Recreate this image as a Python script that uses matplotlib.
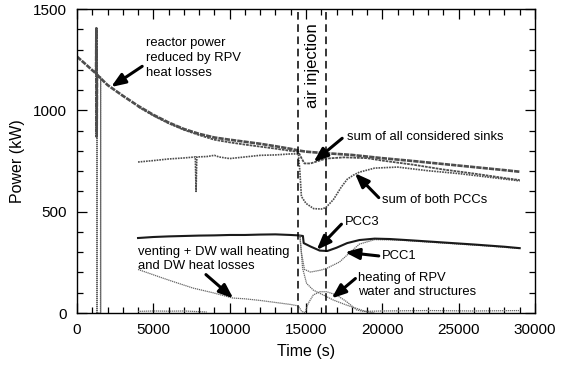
import matplotlib
matplotlib.use("Agg")
import matplotlib.pyplot as plt
from matplotlib.ticker import MultipleLocator

plt.rcParams["font.family"] = ["Liberation Sans", "DejaVu Sans"]

# reactor power reduced by RPV heat losses
reactor_t = [0, 500, 1000, 1250, 1270, 1290, 1310, 2000, 3000, 4000, 5000, 6000, 7000, 8000,
             9000, 10000, 11000, 12000, 13000, 14000, 14500, 15000, 16000, 17000, 18000,
             19000, 20000, 22000, 24000, 26000, 28000, 29000]
reactor_p = [1265, 1232, 1198, 1182, 1405, 870, 1176, 1125, 1072, 1022, 978, 940, 908, 884,
             866, 855, 845, 835, 823, 810, 802, 796, 790, 785, 780,
             772, 764, 750, 735, 720, 705, 697]

# spikes of the early transient
spike_t = [1300, 1310, 1320, 1540, 1550, 1560]
spike_p = [0, 1300, 0, 0, 1165, 0]

# sum of all considered sinks
sinks_t = [4000, 5000, 6000, 7000, 8000, 9000, 10000, 11000, 12000, 13000, 14000, 14500,
           14700, 14900, 15300, 15800, 16300, 17500, 19000, 20000, 22000, 24000, 26000,
           28000, 29000]
sinks_p = [1018, 974, 936, 904, 878, 855, 842, 831, 821, 811, 800, 795,
           765, 738, 738, 750, 762, 768, 764, 752, 732, 708, 688, 666, 656]

# sum of both PCCs
pccsum_t = [4000, 5000, 6000, 7000, 7750, 7800, 7850, 8500, 9000, 9300, 10000, 11000,
            12000, 13000, 14000, 14500, 14600, 14700, 15000, 15500, 16000, 16300, 16800,
            17300, 17700, 18100, 18500, 19500, 21000, 23000, 25000, 27000, 29000]
pccsum_p = [745, 752, 760, 765, 770, 600, 770, 772, 778, 770, 762, 770,
            778, 780, 785, 785, 700, 575, 541, 515, 513, 520, 560,
            620, 660, 680, 695, 715, 720, 702, 688, 670, 652]

# PCC3
pcc3_t = [4000, 5000, 6000, 7000, 8000, 9000, 10000, 11000, 12000, 13000, 14000, 14500,
          14800, 14850, 15300, 15900, 16400, 17000, 17700, 18500, 19500, 20500, 22000,
          24000, 26000, 28000, 29000]
pcc3_p = [370, 375, 378, 380, 382, 383, 385, 385, 387, 388, 385, 383,
          380, 345, 328, 308, 306, 322, 345, 360, 367, 365, 358,
          348, 338, 327, 320]

# PCC1
pcc1_t = [14600, 14700, 14900, 15300, 16000, 16400, 17200, 17900, 18500, 19500, 21000,
          24000, 27000, 29000]
pcc1_p = [383, 300, 215, 202, 212, 222, 252, 300, 340, 362, 360,
          345, 330, 318]

# venting + DW wall heating and DW heat losses
vent_t = [4000, 5400, 6100, 7600, 8900, 10200, 11000, 12000, 13000, 14000, 14500,
          14700, 14930, 15150, 15480, 15910, 16350, 17000, 17660, 18320, 18750,
          20000, 23000, 26000, 29000]
vent_p = [215, 178, 160, 123, 100, 74, 70, 62, 52, 42, 35,
          10, 0, 48, 89, 105, 105, 89, 56, 15, 8,
          10, 12, 10, 12]

# heating of RPV water and structures
rpv_t = [14600, 14780, 15040, 15480, 16130, 16790, 17660, 18970, 19500]
rpv_p = [385, 220, 146, 113, 89, 64, 39, 6, 0]

rpv_pre_t = [4000, 5000, 6000, 7000, 8500]
rpv_pre_p = [8, 10, 9, 10, 5]

inj_start = 14500
inj_end = 16300

fig = plt.figure(figsize=(5.69, 3.66), dpi=100)
ax = fig.add_axes([0.1353, 0.1448, 0.8049, 0.8306])

thin = dict(color="0.4", lw=0.9, ls=(0, (1, 0.6)))
ax.plot(spike_t, spike_p, **thin)
ax.plot(reactor_t, reactor_p, color="0.3", lw=1.9, ls=(0, (2, 0.4)))
ax.plot(sinks_t, sinks_p, color="0.3", lw=1.3, ls=(0, (1.5, 0.5)))
ax.plot(pccsum_t, pccsum_p, color="0.3", lw=1.2, ls=(0, (1, 0.6)))
ax.plot(pcc1_t, pcc1_p, **thin)
ax.plot(pcc3_t, pcc3_p, color="0.1", lw=1.5)
ax.plot(vent_t, vent_p, **thin)
ax.plot(rpv_t, rpv_p, **thin)
ax.plot(rpv_pre_t, rpv_pre_p, **thin)

ax.axvline(inj_start, color="k", lw=1.1, ls=(0, (5, 3)))
ax.axvline(inj_end, color="k", lw=1.1, ls=(0, (5, 3)))
ax.text((inj_start + inj_end) / 2, 1220, "air injection", rotation=90,
        ha="center", va="center", fontsize=12)

ax.set_xlim(0, 30000)
ax.set_ylim(0, 1500)
ax.xaxis.set_major_locator(MultipleLocator(5000))
ax.xaxis.set_minor_locator(MultipleLocator(1000))
ax.yaxis.set_major_locator(MultipleLocator(500))
ax.yaxis.set_minor_locator(MultipleLocator(100))
ax.tick_params(which="both", direction="in", top=True, right=True, labelsize=11)
ax.tick_params(which="major", length=7, width=0.9, pad=7)
ax.tick_params(which="minor", length=4, width=0.9)
for s in ax.spines.values():
    s.set_linewidth(1.0)

ax.set_xlabel("Time (s)", fontsize=11.5, labelpad=5)
ax.set_ylabel("Power (kW)", fontsize=11.5, labelpad=6)

arrow = dict(arrowstyle="-|>,head_width=0.35,head_length=0.9", lw=2.2, color="k",
             shrinkA=0, shrinkB=0)
fs = 9.4
ax.annotate("reactor power\nreduced by RPV\nheat losses", xy=(2230, 1115), xytext=(4520, 1258),
            fontsize=fs, ha="left", va="center", linespacing=1.3,
            arrowprops=dict(arrow, relpos=(-0.04, 0.3)))
ax.annotate("sum of all considered sinks", xy=(15500, 745), xytext=(17680, 868),
            fontsize=fs, ha="left", va="center",
            arrowprops=dict(arrow, relpos=(-0.03, 0.4)))
ax.annotate("sum of both PCCs", xy=(18200, 690), xytext=(19950, 560),
            fontsize=fs, ha="left", va="center",
            arrowprops=dict(arrow, relpos=(-0.02, 0.6)))
ax.annotate("PCC3", xy=(15700, 311), xytext=(17550, 450),
            fontsize=fs, ha="left", va="center",
            arrowprops=dict(arrow, relpos=(-0.1, 0.3)))
ax.annotate("PCC1", xy=(17550, 300), xytext=(19950, 281),
            fontsize=fs, ha="left", va="center",
            arrowprops=dict(arrow, relpos=(-0.05, 0.5)))
ax.annotate("heating of RPV\nwater and structures", xy=(16680, 72), xytext=(18420, 140),
            fontsize=fs, ha="left", va="center", linespacing=1.2,
            arrowprops=dict(arrow, relpos=(-0.02, 0.75)))
ax.annotate("venting + DW wall heating\nand DW heat losses", xy=(10240, 72), xytext=(3970, 268),
            fontsize=fs, ha="left", va="center", linespacing=1.25,
            arrowprops=dict(arrow, relpos=(0.45, -0.1)))

fig.savefig("out.png", dpi=100)
